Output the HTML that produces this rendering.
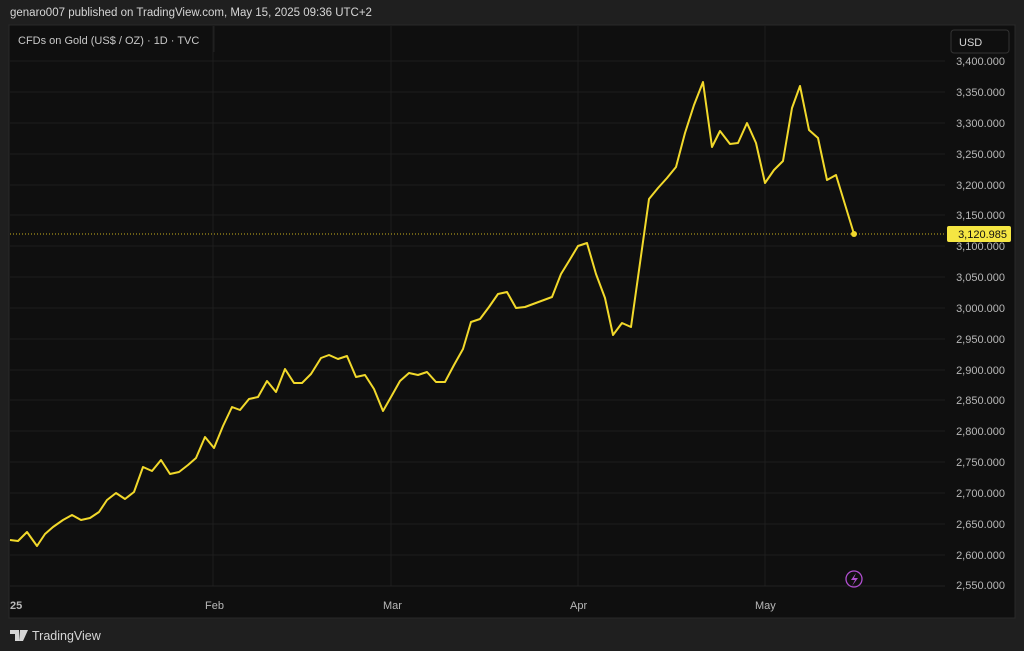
<!DOCTYPE html>
<html><head><meta charset="utf-8"><style>
html,body{margin:0;padding:0;background:#1f1f1f;width:1024px;height:651px;overflow:hidden;font-family:"Liberation Sans",sans-serif;}
</style></head><body>
<svg width="1024" height="651" xmlns="http://www.w3.org/2000/svg" style="position:absolute;left:0;top:0">
<rect x="0" y="0" width="1024" height="651" fill="#1f1f1f"/>
<text x="10" y="16" fill="#d6d6d6" font-size="11.5">genaro007 published on TradingView.com, May 15, 2025 09:36 UTC+2</text>
<rect x="9" y="25" width="1006" height="593" fill="#0f0f0f" stroke="#2a2a2a"/>
<g stroke="#1d1d1d" stroke-width="1">
<line x1="10" y1="61" x2="945" y2="61"/><line x1="10" y1="92" x2="945" y2="92"/><line x1="10" y1="123" x2="945" y2="123"/><line x1="10" y1="154" x2="945" y2="154"/><line x1="10" y1="185" x2="945" y2="185"/><line x1="10" y1="215" x2="945" y2="215"/><line x1="10" y1="246" x2="945" y2="246"/><line x1="10" y1="277" x2="945" y2="277"/><line x1="10" y1="308" x2="945" y2="308"/><line x1="10" y1="339" x2="945" y2="339"/><line x1="10" y1="370" x2="945" y2="370"/><line x1="10" y1="400" x2="945" y2="400"/><line x1="10" y1="431" x2="945" y2="431"/><line x1="10" y1="462" x2="945" y2="462"/><line x1="10" y1="493" x2="945" y2="493"/><line x1="10" y1="524" x2="945" y2="524"/><line x1="10" y1="555" x2="945" y2="555"/>
<line x1="213" y1="26" x2="213" y2="586"/><line x1="391" y1="26" x2="391" y2="586"/><line x1="578" y1="26" x2="578" y2="586"/><line x1="765" y1="26" x2="765" y2="586"/>
</g>
<line x1="10" y1="586" x2="945" y2="586" stroke="#222"/>
<line x1="214" y1="26" x2="214" y2="52" stroke="#222"/>
<text x="18" y="44" fill="#c8c8c8" font-size="11">CFDs on Gold (US$ / OZ) · 1D · TVC</text>
<rect x="951" y="30" width="58" height="23" rx="3" fill="#0f0f0f" stroke="#333"/>
<text x="959" y="46" fill="#d6d6d6" font-size="11">USD</text>
<g fill="#b8b8b8" font-size="11" text-anchor="end">
<text x="1005" y="65">3,400.000</text><text x="1005" y="96">3,350.000</text><text x="1005" y="127">3,300.000</text><text x="1005" y="158">3,250.000</text><text x="1005" y="189">3,200.000</text><text x="1005" y="219">3,150.000</text><text x="1005" y="250">3,100.000</text><text x="1005" y="281">3,050.000</text><text x="1005" y="312">3,000.000</text><text x="1005" y="343">2,950.000</text><text x="1005" y="374">2,900.000</text><text x="1005" y="404">2,850.000</text><text x="1005" y="435">2,800.000</text><text x="1005" y="466">2,750.000</text><text x="1005" y="497">2,700.000</text><text x="1005" y="528">2,650.000</text><text x="1005" y="559">2,600.000</text><text x="1005" y="589">2,550.000</text>
</g>
<line x1="10" y1="234" x2="945" y2="234" stroke="#c9b21e" stroke-dasharray="1,2" stroke-width="1"/>
<rect x="947" y="226" width="64" height="16" rx="2" fill="#f5e642"/>
<text x="1007" y="238" fill="#111" font-size="11" text-anchor="end">3,120.985</text>
<g fill="#b8b8b8" font-size="11">
<text x="10" y="609" font-weight="bold">25</text><text x="205" y="609">Feb</text><text x="383" y="609">Mar</text><text x="570" y="609">Apr</text><text x="755" y="609">May</text>
</g>
<polyline fill="none" stroke="#f2d92b" stroke-width="2" stroke-linejoin="round" points="10,540 18,541 27,532 37,546 45,534 53,527 63,520 72,515 81,520 90,518 99,512 107,500 116,493 125,499 134,492 143,467 152,471 161,460 170,474 179,472 188,465 196,458 205,437 214,448 223,426 232,407 240,410 249,399 258,397 267,381 276,392 285,369 294,383 302,383 311,374 321,358 329,355 338,359 347,356 356,377 365,375 374,389 383,411 391,397 400,381 409,373 418,375 427,372 436,382 445,382 454,365 463,349 471,322 480,319 489,307 498,294 507,292 516,308 525,307 552,297 561,274 569,261 578,246 587,243 596,274 605,298 613,335 622,323 631,327 649,199 658,188 667,178 676,167 685,133 694,105 703,82 712,147 720,131 730,144 738,143 747,123 756,143 765,183 774,170 783,161 792,108 800,86 809,130 818,138 827,180 836,175 854,234"/>
<circle cx="854" cy="234" r="3" fill="#f2d92b"/>
<circle cx="854" cy="579" r="8" fill="none" stroke="#b04fd0" stroke-width="1.3"/>
<path d="M856,573 L851,580 L855,580 L852,586 L858,578 L854,578 Z" fill="#b04fd0"/>
<path d="M10,630 H19 V641 H15 V634 H10 Z M20,630 H28 L23,641 H19 Z" fill="#d6d6d6"/>
<text x="32" y="640" fill="#d6d6d6" font-size="12.5">TradingView</text>
</svg>
</body></html>
